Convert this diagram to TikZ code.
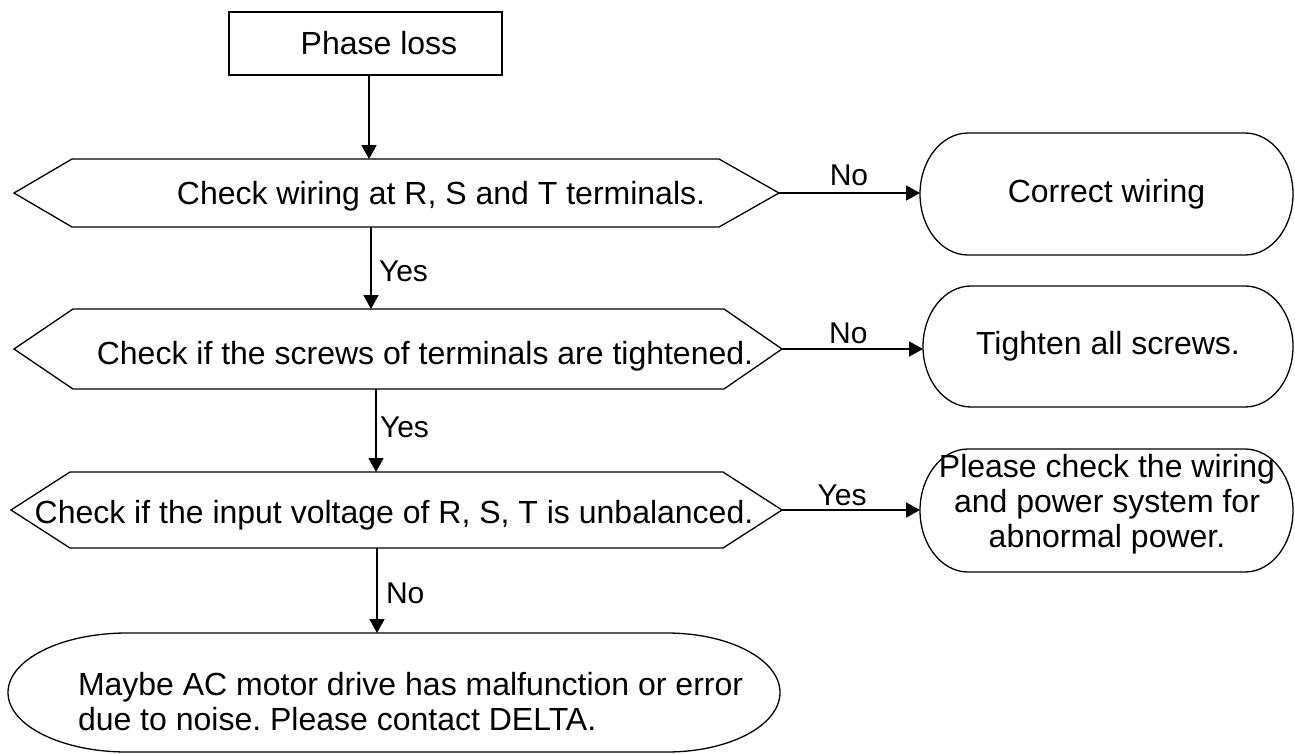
\documentclass[tikz,border=0pt]{standalone}
\usepackage{fontspec}
\setmainfont{Liberation Sans}
\usetikzlibrary{arrows.meta}
\frenchspacing
\begin{document}
\begin{tikzpicture}[x=1pt,y=-1pt,
  every node/.style={inner sep=0pt, outer sep=0pt},
  txt/.style={font=\fontsize{32}{35}\selectfont},
  lbl/.style={font=\fontsize{30}{33}\selectfont},
  outline/.style={draw=black, line width=1.3pt, line join=miter},
  holder/.style={draw=none, rectangle},
  arr/.style={draw=black, line width=1.8pt, -{Triangle[length=14pt,width=15pt]}},
]
\useasboundingbox (0,0) rectangle (1295,753);

% start box
\node[outline, txt, minimum width=273pt, minimum height=63pt] (p) at (365.5,43.5) {\hspace*{27pt}Phase loss};

% decision holders
\node[holder, minimum width=765pt, minimum height=68pt] (h1) at (396.5,193) {};
\node[holder, minimum width=768pt, minimum height=80pt] (h2) at (398,349) {};
\node[holder, minimum width=771pt, minimum height=76pt] (h3) at (396.5,510) {};

\draw[outline] (h1.west) -- ([xshift=58pt]h1.north west) -- ([xshift=-60pt]h1.north east) -- (h1.east)
  -- ([xshift=-60pt]h1.south east) -- ([xshift=58pt]h1.south west) -- cycle;
\draw[outline] (h2.west) -- ([xshift=59pt]h2.north west) -- ([xshift=-58pt]h2.north east) -- (h2.east)
  -- ([xshift=-58pt]h2.south east) -- ([xshift=59pt]h2.south west) -- cycle;
\draw[outline] (h3.west) -- ([xshift=59pt]h3.north west) -- ([xshift=-59pt]h3.north east) -- (h3.east)
  -- ([xshift=-59pt]h3.south east) -- ([xshift=59pt]h3.south west) -- cycle;

\node[txt, anchor=base] (t1) at (441,204) {Check wiring at R, S and T terminals.};
\node[txt, anchor=base] (t2) at (425,364) {Check if the screws of terminals are tightened.};
\node[txt, anchor=base] (t3) at (394,523) {Check if the input voltage of R, S, T is unbalanced.};

% terminal shapes (right)
\node[holder, txt, minimum width=373pt, minimum height=122pt] (c1) at (1106.5,194) {Correct wiring};
\node[holder, txt, minimum width=370pt, minimum height=121pt] (c2) at (1108,346.5) {Tighten all screws.};
\node[holder, minimum width=373pt, minimum height=123pt] (c3) at (1106.5,510.5) {};
\node[txt, align=center] (c3t) at (1107,504) {Please check the wiring\\and power system for\\abnormal power.};

\foreach \nm/\ry in {c1/61pt,c2/60.5pt,c3/61.5pt}{
  \draw[outline] ([xshift=48pt]\nm.north west) -- ([xshift=-48pt]\nm.north east)
    arc[start angle=90, end angle=-90, x radius=48pt, y radius=\ry]
    -- ([xshift=48pt]\nm.south west)
    arc[start angle=270, end angle=90, x radius=48pt, y radius=\ry] -- cycle;
}

% bottom terminal
\node[holder, minimum width=772pt, minimum height=119pt] (m) at (394,692.5) {};
\draw[outline] ([xshift=119pt]m.north west) -- ([xshift=-113pt]m.north east)
  arc[start angle=90, end angle=-90, x radius=113pt, y radius=59.5pt]
  -- ([xshift=119pt]m.south west)
  arc[start angle=270, end angle=90, x radius=119pt, y radius=59.5pt] -- cycle;
\node[txt, align=left, anchor=west] (mt) at (78,701.4) {Maybe AC motor drive has malfunction or error\\due to noise. Please contact DELTA.};

% connectors
\coordinate (x1) at (369,0);
\coordinate (x2) at (371,0);
\coordinate (x3) at (376,0);
\coordinate (x4) at (377,0);

\draw[arr] (p.south -| x1) -- (h1.north -| x1);
\draw[arr] (h1.south -| x2) -- (h2.north -| x2)
  node[lbl, pos=0.66, anchor=base west, xshift=8pt] {Yes};
\draw[arr] (h2.south -| x3) -- (h3.north -| x3)
  node[lbl, pos=0.59, anchor=base west, xshift=4pt] {Yes};
\draw[arr] (h3.south -| x4) -- (m.north -| x4)
  node[lbl, pos=0.65, anchor=base west, xshift=9pt] {No};

\draw[arr] (h1.east) -- (h1.east -| c1.west)
  node[lbl, pos=0.496, anchor=base, yshift=8pt] {No};
\draw[arr] (h2.east) -- (h2.east -| c2.west)
  node[lbl, pos=0.471, anchor=base, yshift=6pt] {No};
\draw[arr] (h3.east) -- (h3.east -| c3.west)
  node[lbl, pos=0.435, anchor=base, yshift=5pt] {Yes};
\end{tikzpicture}
\end{document}
